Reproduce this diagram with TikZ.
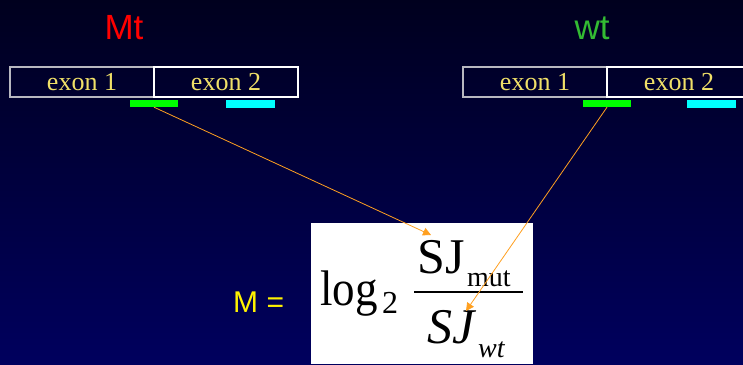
\documentclass[tikz,border=0pt]{standalone}
\usepackage{fontspec}
\setmainfont{Liberation Serif}
\newfontfamily\arial{Liberation Sans}
\usetikzlibrary{arrows.meta}
\definecolor{bgtop}{HTML}{00001E}
\definecolor{bgbot}{HTML}{00005E}
\definecolor{exontxt}{HTML}{F0E068}
\definecolor{exonA}{HTML}{B8B8C0}
\definecolor{orng}{HTML}{FFA020}
\definecolor{wtgreen}{HTML}{33BB33}
\definecolor{barg}{HTML}{00FF00}
\definecolor{barc}{HTML}{00FFFF}
\tikzset{
  exonbox/.style={draw=white, line width=1.2pt, minimum width=144pt, minimum height=30pt, inner sep=0pt, text=exontxt, font=\fontsize{26}{26}\selectfont},
  exonboxA/.style={exonbox, draw=exonA},
  gbar/.style={fill=barg, draw=none, minimum width=48pt, minimum height=7pt, inner sep=0pt},
  cbar/.style={fill=barc, draw=none, minimum width=49pt, minimum height=8pt, inner sep=0pt},
  link/.style={draw=orng, line width=0.8pt, -{Triangle[length=8pt,width=8pt]}},
  label/.style={font=\arial\fontsize{35}{35}\selectfont, inner sep=0pt},
  eq/.style={inner sep=0pt, text=black, anchor=base west}
}
\begin{document}
\begin{tikzpicture}[x=1pt,y=-1pt]
\shade[top color=bgtop, bottom color=bgbot] (0,0) rectangle (743,364);
\useasboundingbox (0,0) rectangle (743,364);
% titles
\node[label, text=red] (mt) at (124,28) {Mt};
\node[label, text=wtgreen] (wt) at (592,28) {wt};
% Mt exons
\node[exonboxA] (m1) at (82,82) {exon 1};
\node[exonbox] (m2) at (226,82) {exon 2};
\node[gbar] (mg) at (154,103.5) {};
\node[cbar] (mc) at (250.5,103.5) {};
% wt exons
\node[exonboxA] (w1) at (535,82) {exon 1};
\node[exonbox] (w2) at (679,82) {exon 2};
\node[gbar] (wg) at (607,103.5) {};
\node[cbar] (wc) at (711.5,103.5) {};
% formula box
\fill[white] (311,223) rectangle (533,364);
\node[eq, text=yellow, font=\arial\fontsize{30}{30}\selectfont] (meq) at (233,312) {M =};
\node[eq, font=\fontsize{50}{50}\selectfont] (log) at (320,305) {\scalebox{0.9}[1]{log}};
\node[eq, font=\fontsize{32}{32}\selectfont] (two) at (382,313) {2};
\node[eq, font=\fontsize{50}{50}\selectfont] (sjm) at (417,273) {SJ};
\node[eq, font=\fontsize{28}{28}\selectfont] (mut) at (467,286) {mut};
\draw[black, line width=2pt] (414,292) -- (523,292);
\node[eq, font=\itshape\fontsize{50}{50}\selectfont] (sjw) at (427,343) {SJ};
\node[eq, font=\itshape\fontsize{28}{28}\selectfont] (wtsub) at (478,357) {wt};
\coordinate (t1) at (431,235);
\coordinate (t2) at (466,311);
\draw[link] (mg.south) -- (t1);
\draw[link] (wg.south) -- (t2);
\end{tikzpicture}
\end{document}
